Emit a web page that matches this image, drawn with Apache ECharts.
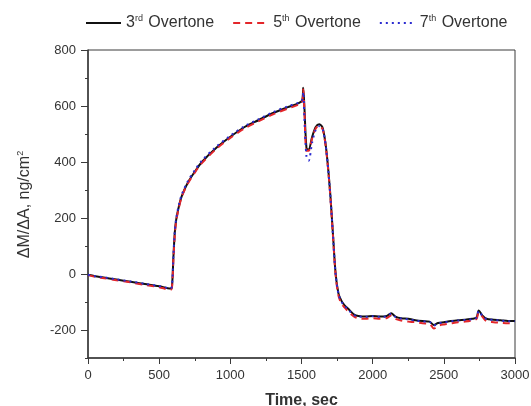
<!DOCTYPE html>
<html>
<head>
<meta charset="utf-8">
<script src="https://cdn.jsdelivr.net/npm/echarts@6/dist/echarts.min.js"></script>
<style>
  html, body { margin: 0; padding: 0; background: #fff; }
  #chart { width: 531px; height: 406px; }
</style>
</head>
<body>
<div id="chart"></div>
<script>
// time points (sec)
const times = [0, 50, 100, 200, 300, 400, 500, 580, 590, 600, 610, 620, 640, 660, 700, 750, 800, 900, 1000,
  1100, 1200, 1300, 1400, 1480, 1505, 1512, 1520, 1535, 1550, 1575, 1600, 1625, 1650, 1675, 1700, 1720,
  1740, 1760, 1780, 1800, 1830, 1870, 1900, 1950, 2000, 2050, 2100, 2130, 2160, 2200, 2250, 2300, 2350,
  2400, 2430, 2460, 2500, 2550, 2600, 2650, 2700, 2730, 2745, 2770, 2800, 2850, 2900, 2950, 3000]

// mass change per area, ng/cm2
const overtone3 = [-3, -8, -12, -20, -28, -36, -44, -52, -45, 60, 150, 195, 245, 280, 325, 365, 400, 450, 490,
  525, 550, 575, 595, 610, 620, 665, 600, 450, 445, 490, 525, 535, 520, 440, 300, 150,
  0, -70, -95, -110, -125, -145, -150, -152, -150, -152, -150, -140, -152, -158, -160, -165, -168,
  -170, -182, -175, -172, -168, -165, -163, -160, -155, -130, -148, -160, -163, -165, -168, -168]

const overtone5 = [-4, -10, -14, -22, -30, -39, -47, -56, -48, 50, 140, 190, 240, 278, 322, 362, 396, 446, 486,
  520, 546, 570, 590, 605, 615, 660, 590, 440, 440, 485, 520, 530, 515, 435, 295, 145,
  -5, -78, -105, -118, -135, -152, -158, -160, -158, -160, -157, -148, -160, -166, -170, -172, -176,
  -178, -195, -185, -180, -176, -172, -170, -166, -160, -138, -152, -168, -172, -174, -176, -176]

const overtone7 = [-3, -8, -11, -19, -27, -35, -43, -51, -44, 65, 155, 200, 250, 285, 330, 370, 405, 454, 494,
  528, 553, 578, 598, 612, 622, 650, 560, 420, 405, 470, 515, 528, 515, 438, 298, 148,
  -2, -72, -98, -112, -128, -147, -151, -153, -151, -153, -151, -142, -153, -159, -162, -166, -169,
  -171, -184, -176, -173, -169, -166, -164, -161, -156, -132, -149, -161, -164, -166, -169, -169]

// axis ticks
const yMajorTicks = [-200, 0, 200, 400, 600, 800]
const yMinorTicks = [-300, -100, 100, 300, 500, 700]

const legendNames = ['3rd Overtone', '5th Overtone', '7th Overtone']
const legendLabels = {
  '3rd Overtone': '3{sup|rd} Overtone',
  '5th Overtone': '5{sup|th} Overtone',
  '7th Overtone': '7{sup|th} Overtone',
}

const pairs = vals => times.map((t, i) => [t, vals[i]])

const myChart = echarts.init(document.getElementById('chart'))

const fontFamily = 'Liberation Sans, Arial, sans-serif'
const axisColor = '#3a3a3a'
const supStyle = { fontSize: 9, verticalAlign: 'top', padding: [0, 1, 9, 0], color: '#333', fontFamily }

const option = {
  animation: false,
  backgroundColor: '#fff',
  legend: {
    data: legendNames,
    top: 9,
    left: 80,
    itemWidth: 35,
    itemHeight: 12,
    itemGap: 18,
    itemStyle: { opacity: 0, color: 'transparent', borderWidth: 0 },
    formatter: name => legendLabels[name],
    textStyle: {
      fontFamily,
      fontSize: 16,
      color: '#333',
      rich: { sup: supStyle },
    },
  },
  grid: {
    left: 88,
    right: 16,
    top: 50,
    bottom: 48,
    outerBoundsMode: 'none',
    show: true,
    borderColor: axisColor,
    borderWidth: 1,
  },
  xAxis: {
    type: 'value',
    min: 0,
    max: 3000,
    interval: 500,
    name: 'Time, sec',
    nameLocation: 'middle',
    nameGap: 35,
    nameTextStyle: { fontFamily, fontSize: 16, fontWeight: 'bold', color: '#333' },
    axisLine: { onZero: false, lineStyle: { color: axisColor, width: 1.5 } },
    axisTick: { length: 6, lineStyle: { color: axisColor } },
    minorTick: { show: true, splitNumber: 2, length: 3, lineStyle: { color: axisColor } },
    axisLabel: { fontFamily, fontSize: 13, color: '#333', margin: 11, formatter: v => String(v) },
    splitLine: { show: false },
    minorSplitLine: { show: false },
  },
  yAxis: [
    {
      type: 'value',
      min: -300,
      max: 800,
      name: 'ΔM/ΔA, ng/cm{sup|2}',
      nameLocation: 'middle',
      nameGap: 54,
      nameRotate: 90,
      nameTextStyle: {
        fontFamily,
        fontSize: 16,
        color: '#333',
        rich: { sup: supStyle },
      },
      axisLine: { onZero: false, lineStyle: { color: axisColor, width: 1.5 } },
      axisTick: { length: 7, customValues: yMajorTicks, lineStyle: { color: axisColor } },
      axisLabel: { fontFamily, fontSize: 13, color: '#333', margin: 12, customValues: yMajorTicks },
      splitLine: { show: false },
    },
    {
      type: 'value',
      position: 'left',
      min: -300,
      max: 800,
      axisLine: { show: false, onZero: false },
      axisTick: { length: 3, customValues: yMinorTicks, lineStyle: { color: axisColor } },
      axisLabel: { show: false },
      splitLine: { show: false },
    },
  ],
  series: [
    {
      name: '3rd Overtone',
      type: 'line',
      showSymbol: false,
      symbol: 'none',
      smooth: 0.3,
      data: pairs(overtone3),
      itemStyle: { color: '#111' },
      lineStyle: { color: '#111', width: 2 },
    },
    {
      name: '5th Overtone',
      type: 'line',
      showSymbol: false,
      symbol: 'none',
      smooth: 0.3,
      data: pairs(overtone5),
      itemStyle: { color: '#e3262a' },
      lineStyle: { color: '#e3262a', width: 2, type: [7, 5] },
    },
    {
      name: '7th Overtone',
      type: 'line',
      showSymbol: false,
      symbol: 'none',
      smooth: 0.3,
      data: pairs(overtone7),
      itemStyle: { color: '#2b2bd0' },
      lineStyle: { color: '#2b2bd0', width: 2, type: [2, 4] },
    },
  ],
}

myChart.setOption(option)
</script>
</body>
</html>
